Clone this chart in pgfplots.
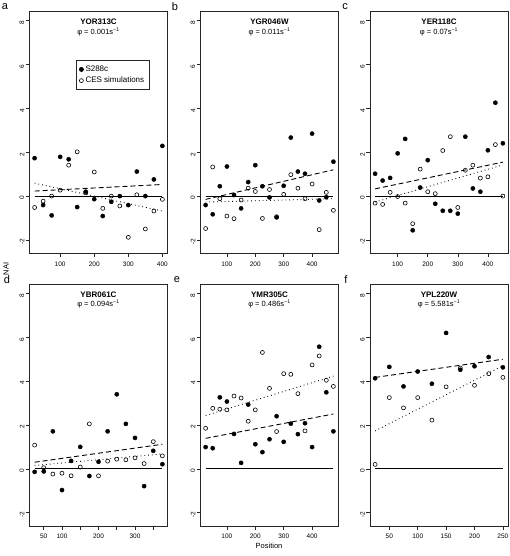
\documentclass[border=0pt]{standalone}
\usepackage{fontspec}
\setmainfont{Liberation Sans}
\usepackage{pgfplots}
\usepackage{pgfplotstable}
\pgfplotsset{compat=1.18}

\pgfplotstableread{
x s c
25 1.73 -0.52
50 -0.41 -0.23
75 -0.88 0.0
100 1.79 0.27
125 1.68 1.41
150 -0.50 2.02
175 0.20 0.15
200 -0.14 1.10
225 -0.91 -0.56
250 -0.26 0.0
275 0.0 -0.45
300 -0.41 -1.88
325 1.12 0.06
350 0.0 -1.50
375 0.76 -0.68
400 2.29 -0.15
}\dataA

\pgfplotstableread{
x s c
25 -0.41 -1.48
50 -0.83 1.33
75 0.45 -0.12
100 1.35 -0.91
125 0.05 -1.03
150 -0.56 -0.18
175 0.64 0.36
200 1.41 0.21
225 0.45 -1.02
250 -0.06 0.30
275 -0.97 -0.94
300 0.47 0.08
325 2.67 0.98
350 1.12 0.36
375 1.02 -0.12
400 2.85 0.55
425 -0.20 -1.53
450 -0.05 0.17
475 1.57 -0.65
}\dataB

\pgfplotstableread{
x s c
25 1.02 -0.32
50 0.71 -0.38
75 0.83 0.17
100 1.95 -0.02
125 2.61 -0.32
150 -1.56 -1.26
175 0.39 1.23
200 1.64 0.20
225 -0.35 0.11
250 -0.67 2.08
275 -0.67 2.71
300 -0.80 -0.52
325 2.71 1.18
350 0.35 1.41
375 0.20 0.82
400 2.09 0.88
425 4.26 2.35
450 2.41 0.0
}\dataC

\pgfplotstableread{
x s c
25 -0.14 1.08
50 -0.12 0.05
75 1.71 -0.24
100 -0.97 -0.20
125 0.36 -0.32
150 1.00 0.08
175 -0.33 2.05
200 0.32 -0.32
225 1.71 0.35
250 3.40 0.44
275 2.05 0.41
300 1.41 0.50
325 -0.79 0.24
350 0.82 1.24
375 0.21 0.59
}\dataD

\pgfplotstableread{
x s c
25 0.99 1.85
50 0.94 2.76
75 3.26 2.72
100 3.07 2.69
125 1.59 3.32
150 0.27 3.23
175 2.93 2.17
200 1.12 2.69
225 0.76 5.31
250 1.35 3.67
275 2.40 1.70
300 1.23 4.34
325 2.06 4.31
350 1.58 3.43
375 2.08 1.73
400 0.99 4.74
425 5.57 5.15
450 3.49 4.04
475 1.71 3.76
}\dataE

\pgfplotstableread{
x s c
25 4.13 0.20
50 4.65 3.25
75 3.76 2.78
100 4.44 3.25
125 3.88 2.22
150 6.20 3.74
175 4.52 4.60
200 4.68 3.81
225 5.10 4.34
250 4.63 4.17
}\dataF

\pgfplotsset{
  panel/.style={
    scale only axis, width=138pt, height=241.5pt,
    ymin=-2.61, ymax=8.41, ytick={-2,0,2,4,6,8},
    tick align=outside, tick pos=left, major tick length=4pt,
    axis line style={black!85, line width=0.8pt},
    every tick/.style={black!85, line width=0.6pt},
    tick label style={font=\fontsize{6.5}{7}\selectfont},
    yticklabel style={rotate=90, anchor=south, inner sep=1pt, xshift=-2pt},
    xticklabel style={inner sep=1pt, yshift=-3pt},
    /pgf/number format/assume math mode=true,
    anchor=south west,
  },
  sfill/.style={only marks, mark=*, mark size=2.1pt, black},
  sopen/.style={only marks, mark=o, mark size=2.0pt, black, mark options={line width=0.6pt}},
  dashfit/.style={black, line width=0.9pt, dash pattern=on 5pt off 3pt, forget plot},
  dotfit/.style={black, line width=0.9pt, dash pattern=on 0.8pt off 3pt, forget plot},
  zero/.style={black, line width=0.7pt, forget plot},
}
\newcommand{\ptitle}[2]{%
  \node[font=\bfseries\fontsize{8}{9}\selectfont] at (axis description cs:0.5,0.959) {#1};
  \node[font=\fontsize{7.5}{9}\selectfont] at (axis description cs:0.5,0.918) {φ = #2s\textsuperscript{−1}};
}

\begin{document}
\begin{tikzpicture}
\useasboundingbox (0,0) rectangle (510pt,556pt);

% a
\begin{axis}[panel, at={(29.5pt,302.7pt)}, xmin=10, xmax=415, xtick={100,200,300,400},
  legend style={at={(0.337,0.8)}, anchor=north west, draw=black!85, line width=0.6pt,
    font=\fontsize{8}{9.5}\selectfont, inner xsep=3pt, inner ysep=3.5pt, row sep=0pt,
    cells={anchor=west}},
  legend image post style={line width=0.6pt}]
\addplot[sfill] table[x=x,y=s]{\dataA};
\addlegendentry{S288c}
\addplot[sopen] table[x=x,y=c]{\dataA};
\addlegendentry{CES simulations\hspace{5pt}}
\addplot[zero] coordinates {(25,0)(400,0)};
\addplot[dashfit] coordinates {(25,0.23)(400,0.53)};
\addplot[dotfit] coordinates {(25,0.59)(400,-0.68)};
\ptitle{YOR313C}{0.001}
\end{axis}

% b
\begin{axis}[panel, at={(200.5pt,302.7pt)}, xmin=7, xmax=493, xtick={100,200,300,400}]
\addplot[sfill] table[x=x,y=s]{\dataB};
\addplot[sopen] table[x=x,y=c]{\dataB};
\addplot[zero] coordinates {(25,0)(475,0)};
\addplot[dashfit] coordinates {(25,-0.15)(475,1.2)};
\addplot[dotfit] coordinates {(25,-0.27)(475,-0.12)};
\ptitle{YGR046W}{0.011}
\end{axis}

% c
\begin{axis}[panel, at={(370pt,302.7pt)}, xmin=8, xmax=467, xtick={100,200,300,400}]
\addplot[sfill] table[x=x,y=s]{\dataC};
\addplot[sopen] table[x=x,y=c]{\dataC};
\addplot[zero] coordinates {(25,0)(450,0)};
\addplot[dashfit] coordinates {(25,0.33)(450,1.55)};
\addplot[dotfit] coordinates {(25,-0.27)(450,1.42)};
\ptitle{YER118C}{0.07}
\end{axis}

% d
\begin{axis}[panel, at={(29.5pt,30pt)}, xmin=11, xmax=389, xtick={50,100,150,200,250,300,350},
  xticklabels={50,100,,200,,300,}]
\addplot[sfill] table[x=x,y=s]{\dataD};
\addplot[sopen] table[x=x,y=c]{\dataD};
\addplot[zero] coordinates {(25,0)(375,0)};
\addplot[dashfit] coordinates {(25,0.3)(375,1.12)};
\addplot[dotfit] coordinates {(25,0.15)(375,0.68)};
\ptitle{YBR061C}{0.094}
\end{axis}

% e
\begin{axis}[panel, at={(200.5pt,30pt)}, xmin=7, xmax=493, xtick={100,200,300,400}]
\addplot[sfill] table[x=x,y=s]{\dataE};
\addplot[sopen] table[x=x,y=c]{\dataE};
\addplot[zero] coordinates {(25,0)(475,0)};
\addplot[dashfit] coordinates {(25,1.39)(475,2.5)};
\addplot[dotfit] coordinates {(25,2.43)(475,4.23)};
\ptitle{YMR305C}{0.486}
\end{axis}

% f
\begin{axis}[panel, at={(370pt,30pt)}, xmin=16, xmax=259, xtick={50,100,150,200,250}]
\addplot[sfill] table[x=x,y=s]{\dataF};
\addplot[sopen] table[x=x,y=c]{\dataF};
\addplot[zero] coordinates {(25,0)(250,0)};
\addplot[dashfit] coordinates {(25,4.17)(250,5.0)};
\addplot[dotfit] coordinates {(25,1.73)(250,4.7)};
\ptitle{YPL220W}{5.581}
\end{axis}

% panel letters
\begin{scope}[every node/.style={font=\fontsize{11}{12}\selectfont}]
\node at (5pt,549pt) {a};
\node at (175pt,549pt) {b};
\node at (345pt,549pt) {c};
\node at (7pt,276pt) {d};
\node at (177pt,276pt) {e};
\node at (346pt,276pt) {f};
\end{scope}

\node[rotate=90, font=\fontsize{7.5}{9}\selectfont] at (6pt,287pt) {NAI};
\node[font=\fontsize{7.5}{9}\selectfont] at (269pt,10.5pt) {Position};
\end{tikzpicture}
\end{document}
